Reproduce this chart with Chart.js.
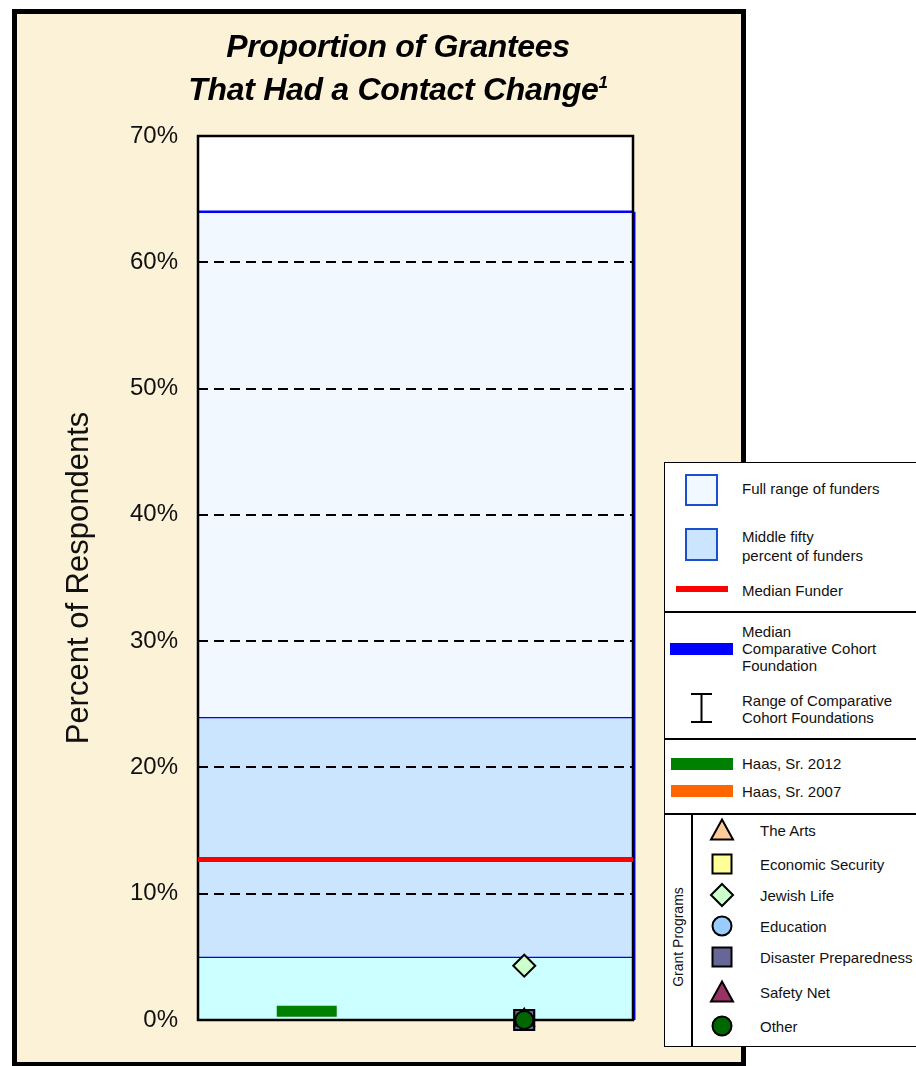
<!DOCTYPE html>
<html>
<head>
<meta charset="utf-8">
<script src="https://cdn.jsdelivr.net/npm/chart.js@4.4.1/dist/chart.umd.min.js"></script>
<style>
  html, body { margin: 0; padding: 0; background: #fff; overflow: hidden; }
  body { width: 916px; height: 1066px; position: relative; font-family: "Liberation Sans", Arial, Helvetica, sans-serif; }
  #frame { position: absolute; left: 12px; top: 9px; width: 734px; height: 1058px; box-sizing: border-box; border: 5px solid #000; background: #FCF2D8; }
  #chart { position: absolute; left: 0; top: 0; }
  #title { position: absolute; left: 98px; width: 600px; top: 25px; text-align: center; font: italic bold 32px/43px "Liberation Sans", Arial, sans-serif; color: #000; letter-spacing: -0.3px; }
  #title sup { font-size: 17px; vertical-align: 12px; line-height: 0; }
  #legend { position: absolute; left: 664px; top: 462px; width: 262px; height: 585px; box-sizing: border-box; border: 1.5px solid #000; background: #fff; font-size: 15px; color: #111; }
  #legend .t { position: absolute; white-space: nowrap; line-height: 17px; }
  #legend .hr { position: absolute; left: 0; right: 0; height: 0; border-top: 2px solid #000; }
  #legend svg { position: absolute; overflow: visible; }
</style>
</head>
<body>
<div id="frame"></div>
<canvas id="chart" width="916" height="1066"></canvas>
<div id="title">Proportion of Grantees<br>That Had a Contact Change<sup>1</sup></div>
<div id="legend">
  <div style="position:absolute;left:20px;top:11px;width:33px;height:32px;box-sizing:border-box;border:2px solid #1a4fd0;background:#F2F8FF"></div>
  <div class="t" style="left:77px;top:17px">Full range of funders</div>
  <div style="position:absolute;left:20px;top:65px;width:33px;height:33px;box-sizing:border-box;border:2px solid #1a4fd0;background:#CCE5FF"></div>
  <div class="t" style="left:77px;top:64px;line-height:19px">Middle fifty<br>percent of funders</div>
  <div style="position:absolute;left:11px;top:123px;width:52px;height:6px;background:#FF0000"></div>
  <div class="t" style="left:77px;top:119px">Median Funder</div>
  <div class="hr" style="top:148px"></div>
  <div style="position:absolute;left:5px;top:180px;width:63px;height:12px;background:#0000FF"></div>
  <div class="t" style="left:77px;top:160px">Median<br>Comparative Cohort<br>Foundation</div>
  <svg style="left:26px;top:230px" width="22" height="31"><path d="M0,1 H21 M10.5,1 V29 M0,29 H21" stroke="#000" stroke-width="2" fill="none"/></svg>
  <div class="t" style="left:77px;top:229px">Range of Comparative<br>Cohort Foundations</div>
  <div class="hr" style="top:275px"></div>
  <div style="position:absolute;left:6px;top:295px;width:62px;height:12px;background:#008000"></div>
  <div class="t" style="left:77px;top:292px">Haas, Sr. 2012</div>
  <div style="position:absolute;left:6px;top:322px;width:62px;height:12px;background:#FF6600"></div>
  <div class="t" style="left:77px;top:320px">Haas, Sr. 2007</div>
  <div class="hr" style="top:350px"></div>
  <div style="position:absolute;left:26px;top:351px;bottom:0;border-left:2px solid #000"></div>
  <div class="t" style="left:13px;top:474px;font-size:14px;transform:translate(-50%,-50%) rotate(-90deg)">Grant Programs</div>
</div>
<script>
// y axis
const yMin = 0;
const yMax = 70;
const yStep = 10;

// two groups along the x axis
const groups = ['Haas, Sr.', 'Grant Programs'];

// funder bands (percent)
const bandNames = ['Full range of funders', 'Middle fifty percent of funders', 'Lower range of funders'];
const bandLow = [24, 5, 0];
const bandHigh = [64, 24, 5];
const bandColors = ['#F2F8FF', '#CCE5FF', '#CCFFFF'];

const medianFunder = 12.7;
const haas2012 = [0.7, null];

// grant programs
const programNames = ['The Arts', 'Economic Security', 'Jewish Life', 'Education', 'Disaster Preparedness', 'Safety Net', 'Other'];
const programValues = [0, 0, 4.3, 0, 0, 0, 0];
const programShapes = ['triangle', 'rect', 'rectRot', 'circle', 'rect', 'triangle', 'circle'];
const programColors = ['#FFCC99', '#FFFF99', '#CCFFCC', '#99CCFF', '#666699', '#993366', '#006600'];
const programRadius = [11, 14, 11, 9, 14, 11, 9];

const fontFamily = "'Liberation Sans', Arial, Helvetica, sans-serif";

// legend rows for programs
const legendRowY = [367, 401, 432, 463, 494, 529, 563];
function symbolSvg(shape, color) {
  let inner = '';
  if (shape === 'triangle') inner = '<polygon points="12,1.5 23,21.5 1,21.5"';
  else if (shape === 'rect') inner = '<rect x="2.5" y="2.5" width="19" height="19"';
  else if (shape === 'rectRot') inner = '<polygon points="12,1 23,12 12,23 1,12"';
  else inner = '<circle cx="12" cy="12" r="9.5"';
  return inner + ' fill="' + color + '" stroke="#000" stroke-width="2"/>';
}
const legendBox = document.getElementById('legend');
programNames.forEach((name, i) => {
  const yc = legendRowY[i];
  legendBox.insertAdjacentHTML('beforeend',
    '<svg style="left:45px;top:' + (yc - 12) + 'px" width="24" height="24">' + symbolSvg(programShapes[i], programColors[i]) + '</svg>' +
    '<div class="t" style="left:95px;top:' + (yc - 8.5) + 'px">' + name + '</div>');
});

// chart datasets
const datasets = [];
bandNames.forEach((name, i) => {
  datasets.push({
    type: 'line',
    label: name,
    xAxisID: 'xl',
    data: [{ x: 0, y: bandHigh[i] }, { x: 1, y: bandHigh[i] }],
    fill: { value: bandLow[i] },
    backgroundColor: bandColors[i],
    borderColor: '#0000FF',
    borderWidth: 2.5,
    pointRadius: 0,
    order: 30
  });
});

datasets.push({
  type: 'line',
  label: 'Median Funder',
  xAxisID: 'xl',
  data: [{ x: 0, y: medianFunder }, { x: 1, y: medianFunder }],
  borderColor: '#FF0000',
  borderWidth: 5,
  pointRadius: 0,
  fill: false,
  clip: 3,
  order: 20
});

datasets.push({
  type: 'line',
  label: 'Haas, Sr. 2012',
  xAxisID: 'x',
  data: haas2012,
  showLine: false,
  pointStyle: 'line',
  pointRadius: 30,
  pointBorderWidth: 11,
  pointBorderColor: '#008000',
  order: 15
});

programNames.forEach((name, i) => {
  datasets.push({
    type: 'line',
    label: name,
    xAxisID: 'x',
    data: [null, programValues[i]],
    showLine: false,
    pointStyle: programShapes[i],
    pointRadius: programRadius[i],
    pointBackgroundColor: programColors[i],
    pointBorderColor: '#000',
    pointBorderWidth: 2,
    clip: false,
    order: 10 - i
  });
});

// white plot area, grid over the bands, plot frame
const framePlugin = {
  id: 'frame',
  beforeDraw(chart) {
    const a = chart.chartArea;
    chart.ctx.save();
    chart.ctx.fillStyle = '#fff';
    chart.ctx.fillRect(a.left, a.top, a.right - a.left, a.bottom - a.top);
    chart.ctx.restore();
  },
  afterDatasetDraw(chart, args) {
    if (args.index !== 0) return;
    const ctx = chart.ctx;
    const a = chart.chartArea;
    const y = chart.scales.y;
    y.drawGrid(a);
    ctx.save();
    ctx.strokeStyle = '#0000FF';
    ctx.lineWidth = 2;
    ctx.beginPath();
    ctx.moveTo(a.right + 1.5, y.getPixelForValue(bandHigh[0]));
    ctx.lineTo(a.right + 1.5, a.bottom);
    ctx.stroke();
    ctx.strokeStyle = '#000';
    ctx.lineWidth = 2.5;
    ctx.strokeRect(a.left, a.top, a.right - a.left, a.bottom - a.top);
    ctx.restore();
  }
};

new Chart(document.getElementById('chart'), {
  data: { labels: groups, datasets: datasets },
  options: {
    responsive: false,
    animation: false,
    layout: { padding: { left: 12, top: 136, right: 283, bottom: 46 } },
    plugins: { legend: { display: false }, tooltip: { enabled: false } },
    scales: {
      x: { type: 'category', offset: true, display: false },
      xl: { type: 'linear', min: 0, max: 1, display: false },
      y: {
        min: yMin,
        max: yMax,
        ticks: {
          stepSize: yStep,
          padding: 20,
          color: '#111',
          font: { size: 24, family: fontFamily },
          callback: v => v + '%'
        },
        grid: { color: '#000', lineWidth: 2, drawTicks: false },
        border: { display: false, dash: [10, 6] },
        title: {
          display: true,
          text: 'Percent of Respondents',
          color: '#111',
          font: { size: 31, family: fontFamily },
          padding: { top: 49, bottom: 0 }
        },
        afterFit: s => { s.width = 186; }
      }
    }
  },
  plugins: [framePlugin]
});
</script>
</body>
</html>
